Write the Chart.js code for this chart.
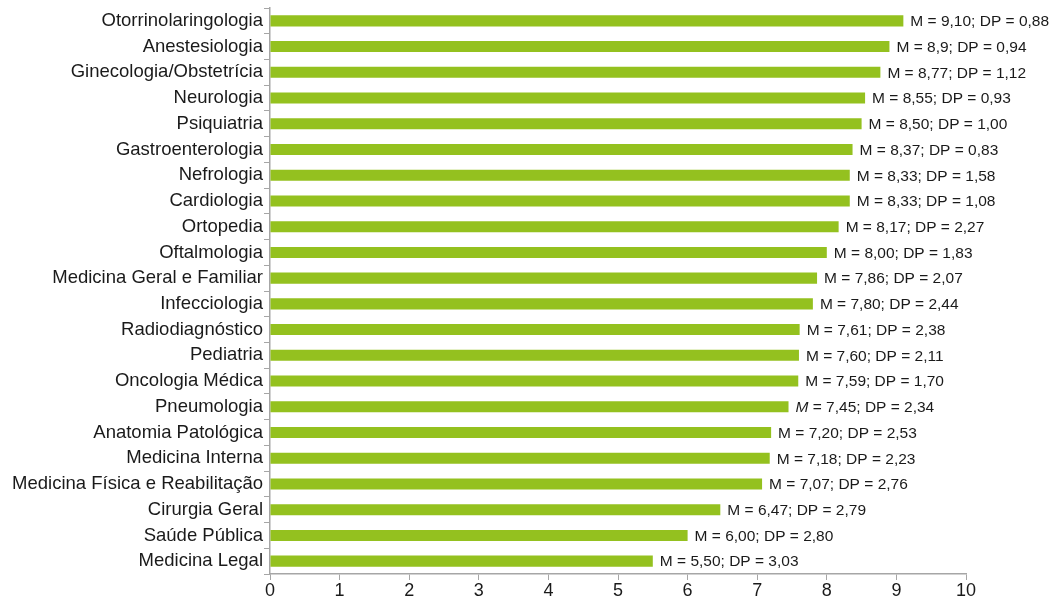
<!DOCTYPE html>
<html>
<head>
<meta charset="utf-8">
<script src="https://cdn.jsdelivr.net/npm/chart.js@4/dist/chart.umd.min.js"></script>
<style>
  html, body { margin: 0; padding: 0; background: #fff; }
  #wrap { width: 1055px; height: 599px; }
</style>
</head>
<body>
<div id="wrap"><canvas id="chart"></canvas></div>
<script>
// data
const specialties = [
  'Otorrinolaringologia', 'Anestesiologia', 'Ginecologia/Obstetrícia', 'Neurologia',
  'Psiquiatria', 'Gastroenterologia', 'Nefrologia', 'Cardiologia', 'Ortopedia',
  'Oftalmologia', 'Medicina Geral e Familiar', 'Infecciologia', 'Radiodiagnóstico',
  'Pediatria', 'Oncologia Médica', 'Pneumologia', 'Anatomia Patológica',
  'Medicina Interna', 'Medicina Física e Reabilitação', 'Cirurgia Geral',
  'Saúde Pública', 'Medicina Legal'
];
const means = [9.10, 8.9, 8.77, 8.55, 8.50, 8.37, 8.33, 8.33, 8.17, 8.00, 7.86,
  7.80, 7.61, 7.60, 7.59, 7.45, 7.20, 7.18, 7.07, 6.47, 6.00, 5.50];
const meanText = ['9,10', '8,9', '8,77', '8,55', '8,50', '8,37', '8,33', '8,33', '8,17',
  '8,00', '7,86', '7,80', '7,61', '7,60', '7,59', '7,45', '7,20', '7,18', '7,07',
  '6,47', '6,00', '5,50'];
const sdText = ['0,88', '0,94', '1,12', '0,93', '1,00', '0,83', '1,58', '1,08', '2,27',
  '1,83', '2,07', '2,44', '2,38', '2,11', '1,70', '2,34', '2,53', '2,23', '2,76',
  '2,79', '2,80', '3,03'];
// the source sets the "M" in italics for this one row only
const italicM = ['Pneumologia'];
const xTicks = [0, 1, 2, 3, 4, 5, 6, 7, 8, 9, 10];

const FONT = "'Liberation Sans', Arial, sans-serif";
const axisGray = '#a6a6a6';

// labels "M = x; DP = y" to the right of each bar
const barLabels = {
  id: 'barLabels',
  afterDatasetsDraw(chart) {
    const ctx = chart.ctx;
    const meta = chart.getDatasetMeta(0);
    ctx.save();
    ctx.fillStyle = '#1a1a1a';
    ctx.textBaseline = 'middle';
    ctx.textAlign = 'left';
    meta.data.forEach((bar, i) => {
      let x = bar.x + 7;
      const y = bar.y + 1;
      const rest = ' = ' + meanText[i] + '; DP = ' + sdText[i];
      ctx.font = (italicM.includes(specialties[i]) ? 'italic ' : '') + '15.5px ' + FONT;
      ctx.fillText('M', x, y);
      x += ctx.measureText('M').width;
      ctx.font = '15.5px ' + FONT;
      ctx.fillText(rest, x, y);
    });
    ctx.restore();
  }
};

new Chart(document.getElementById('chart'), {
  type: 'bar',
  data: {
    labels: specialties,
    datasets: [{
      data: means,
      backgroundColor: '#94c11f',
      borderWidth: 0,
      categoryPercentage: 1,
      barPercentage: 0.43
    }]
  },
  options: {
    indexAxis: 'y',
    responsive: true,
    maintainAspectRatio: false,
    animation: false,
    layout: { padding: { top: 8, right: 89, left: 0, bottom: 0 } },
    plugins: { legend: { display: false }, tooltip: { enabled: false } },
    scales: {
      x: {
        min: 0,
        max: 10,
        afterBuildTicks(axis) { axis.ticks = xTicks.map(v => ({ value: v })); },
        afterFit(axis) { axis.height = 25; },
        grid: { drawOnChartArea: false, drawTicks: true, tickLength: 6, color: axisGray },
        border: { color: axisGray, width: 1.5 },
        ticks: { color: '#1a1a1a', font: { family: FONT, size: 18 }, padding: 0, maxRotation: 0 }
      },
      y: {
        afterFit(axis) { axis.width = 270; axis.paddingTop = 0; axis.paddingBottom = 0; },
        grid: { drawOnChartArea: false, drawTicks: true, tickLength: 6, color: axisGray, offset: true },
        border: { color: axisGray, width: 1.5 },
        ticks: { color: '#1a1a1a', font: { family: FONT, size: 18.5 }, padding: 1, autoSkip: false }
      }
    }
  },
  plugins: [barLabels]
});
</script>
</body>
</html>
